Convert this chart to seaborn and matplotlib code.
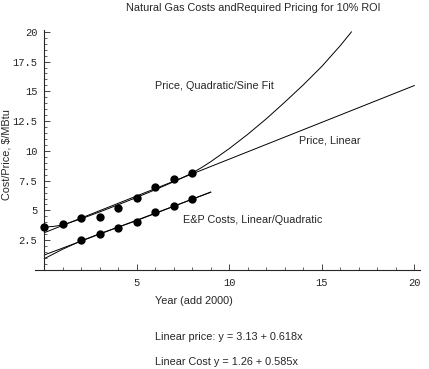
import numpy as np
import pandas as pd
import matplotlib
matplotlib.use("Agg")
import matplotlib.pyplot as plt
from matplotlib.ticker import MultipleLocator, FixedLocator
import seaborn as sns

# ---- data ----
price_years = [0, 1, 2, 3, 4, 5, 6, 7, 8]
price_values = [3.59, 3.84, 4.34, 4.43, 5.18, 6.08, 7.0, 7.67, 8.12]

cost_years = [2, 3, 4, 5, 6, 7, 8]
cost_values = [2.52, 3.0, 3.5, 4.0, 4.85, 5.38, 6.0]

# fitted curves
price_lin_x = [0, 20]
price_lin_y = [3.13, 15.49]

price_quad_x = [0, 0.5, 1, 2, 3, 4, 5, 6, 7, 7.5, 8, 8.5, 9, 9.5, 10,
                11, 12, 13, 14, 15, 16, 16.6]
price_quad_y = [3.6, 3.66, 3.78, 4.3, 4.88, 5.48, 6.1, 6.74, 7.42, 7.78, 8.15,
                8.6, 9.1, 9.65, 10.2, 11.4, 12.7, 14.1, 15.55, 17.1, 18.85, 20.0]

cost_lin_x = [0, 9]
cost_lin_y = [1.26, 6.53]

cost_quad_x = [0, 1, 2, 3, 4, 5, 6, 7, 8, 9]
cost_quad_y = [0.95, 1.75, 2.45, 3.05, 3.6, 4.15, 4.75, 5.35, 5.95, 6.55]

title = "Natural Gas Costs andRequired Pricing for 10% ROI"
xlabel = "Year (add 2000)"
ylabel = "Cost/Price, $/MBtu"
x_ticks = [5, 10, 15, 20]
y_ticks = [2.5, 5, 7.5, 10, 12.5, 15, 17.5, 20]
y_tick_labels = ["2.5", "5", "7.5", "10", "12.5", "15", "17.5", "20"]

# ---- figure ----
sns.set_style("white")
plt.rcParams['font.family'] = ['Liberation Sans', 'DejaVu Sans']

W, H = 429, 369
fig = plt.figure(figsize=(W / 100, H / 100), dpi=100)
left_px, right_px = 35, 420
top_px, bottom_px = 30, 270
ax = fig.add_axes([left_px / W, 1 - bottom_px / H,
                   (right_px - left_px) / W, (bottom_px - top_px) / H])
ax.set_xlim(-0.5, 20.3)
ax.set_ylim(0, 20.15)

lw = 0.7
for xs, ys in [(price_lin_x, price_lin_y), (price_quad_x, price_quad_y),
               (cost_lin_x, cost_lin_y), (cost_quad_x, cost_quad_y)]:
    sns.lineplot(x=xs, y=ys, ax=ax, color="black", linewidth=lw,
                 estimator=None, sort=False)

sns.scatterplot(x=price_years, y=price_values, ax=ax, color="black", s=36,
                edgecolor="black", linewidth=0, zorder=5)
sns.scatterplot(x=cost_years, y=cost_values, ax=ax, color="black", s=36,
                edgecolor="black", linewidth=0, zorder=5)

# axes styling (Mathematica-like)
for s in ["top", "right"]:
    ax.spines[s].set_visible(False)
ax.spines["left"].set_position(("data", 0))
ax.spines["left"].set_linewidth(0.8)
ax.spines["bottom"].set_linewidth(0.8)
ax.spines["left"].set_bounds(0, 20.15)

ax.xaxis.set_major_locator(FixedLocator(x_ticks))
ax.xaxis.set_minor_locator(MultipleLocator(1))
ax.yaxis.set_major_locator(FixedLocator(y_ticks))
ax.yaxis.set_minor_locator(MultipleLocator(0.5))
ax.set_yticklabels(y_tick_labels)
ax.tick_params(which="major", direction="in", length=4, width=0.6,
               labelsize=7.5, bottom=True, left=True)
ax.tick_params(axis="x", which="major", pad=6)
ax.tick_params(axis="y", which="major", pad=5)
ax.tick_params(which="minor", direction="in", length=2, width=0.5,
               bottom=True, left=True)
for lab in ax.get_xticklabels() + ax.get_yticklabels():
    lab.set_family("Liberation Mono")

fs = 7.8
fig.text(253 / W, 1 - 8 / H, title, ha="center", va="center", fontsize=fs)
fig.text(155 / W, 1 - 86 / H, "Price, Quadratic/Sine Fit", ha="left", va="center", fontsize=fs)
fig.text(299 / W, 1 - 140 / H, "Price, Linear", ha="left", va="center", fontsize=fs)
fig.text(183 / W, 1 - 220 / H, "E&P Costs, Linear/Quadratic", ha="left", va="center", fontsize=fs)
fig.text(155 / W, 1 - 301 / H, xlabel, ha="left", va="center", fontsize=fs)
fig.text(155 / W, 1 - 337 / H, "Linear price: y = 3.13 + 0.618x", ha="left", va="center", fontsize=fs)
fig.text(155 / W, 1 - 362 / H, "Linear Cost y = 1.26 + 0.585x", ha="left", va="center", fontsize=fs)
fig.text(7 / W, 1 - 155 / H, ylabel, ha="center", va="center", rotation=90, fontsize=fs)

fig.savefig("out.png", dpi=100, facecolor="white")
